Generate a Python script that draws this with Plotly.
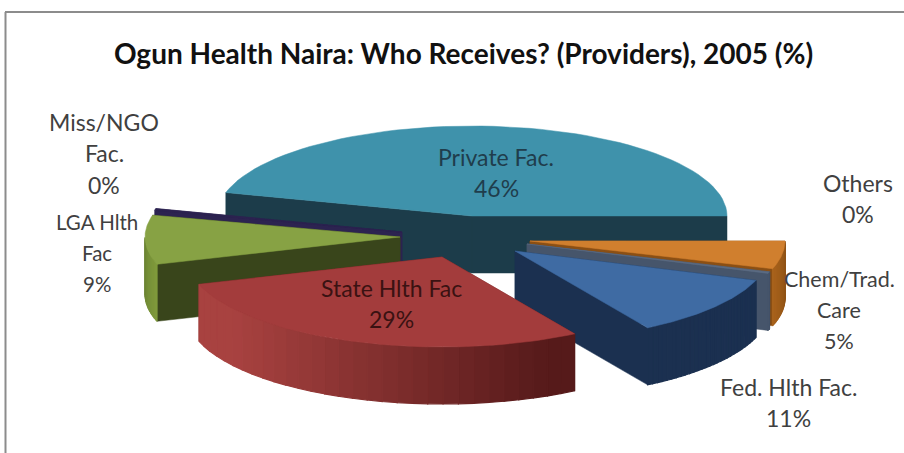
import math
import plotly.graph_objects as go

TITLE = "Ogun Health Naira: Who Receives? (Providers), 2005 (%)"
categories = ["Private Fac.", "Chem/Trad. Care", "Others", "Fed. Hlth Fac.", "State Hlth Fac", "LGA Hlth Fac", "Miss/NGO Fac."]
values = [45.8, 5.0, 0.3, 11.0, 28.8, 8.8, 0.3]
top_colors = ["#3f92ab", "#d07f2e", "#5b6b82", "#3f6ba3", "#a33c3c", "#87a244", "#2c2350"]
cut_colors = ["#1c3c4a", "#8a4f14", "#46556b", "#1b3050", "#6a2020", "#39451b", "#2c2350"]
wall_start = ["#1c3c4a", "#8a4f14", "#46556b", "#1b3050", "#561a1a", "#7f9a3c", "#2c2350"]
wall_end = ["#1c3c4a", "#a8621c", "#46556b", "#1b3050", "#a84240", "#6d8534", "#2c2350"]

# pie geometry, in page pixels
RX, RY, DEPTH = 255, 90, 57
START_DEG = 164.9
apex_by_cat = {
    "Private Fac.": (472, 216), "Chem/Trad. Care": (530, 241), "Others": (527, 244),
    "Fed. Hlth Fac.": (515, 251), "State Hlth Fac": (442, 257),
    "LGA Hlth Fac": (400, 237), "Miss/NGO Fac.": (402, 232),
}
draw_order = ["Private Fac.", "Miss/NGO Fac.", "LGA Hlth Fac", "Chem/Trad. Care", "Others", "Fed. Hlth Fac.", "State Hlth Fac"]

# label layout: lines are derived from the categories and values
label_layout = {
    "Private Fac.": dict(x=496, ys=[157, 188], lines=["Private Fac."], color="#1f3d4c", size=23),
    "Miss/NGO Fac.": dict(x=104, ys=[122, 153, 185], lines=["Miss/NGO", "Fac."], color="#404040", size=23),
    "LGA Hlth Fac": dict(x=97, ys=[222, 253, 284], lines=["LGA Hlth", "Fac"], color="#404040", size=20.5),
    "State Hlth Fac": dict(x=391, ys=[288, 319], lines=["State Hlth Fac"], color="#3a1212", size=23),
    "Others": dict(x=858, ys=[183, 214], lines=["Others"], color="#404040", size=23),
    "Chem/Trad. Care": dict(x=839, ys=[279, 310, 341], lines=["Chem/Trad.", "Care"], color="#404040", size=21.5),
    "Fed. Hlth Fac.": dict(x=788, ys=[387, 418], lines=["Fed. Hlth Fac."], color="#404040", size=23),
}


def mix(c1, c2, f):
    a = [int(c1[i:i + 2], 16) for i in (1, 3, 5)]
    b = [int(c2[i:i + 2], 16) for i in (1, 3, 5)]
    return "#" + "".join(f"{round(p + (q - p) * f):02x}" for p, q in zip(a, b))


def pt(apex, deg):
    r = math.radians(deg)
    return apex[0] + RX * math.cos(r), apex[1] - RY * math.sin(r)


def down(p):
    return p[0], p[1] + DEPTH


def poly(fig, pts, color, width=0.5):
    xs = [p[0] for p in pts] + [pts[0][0]]
    ys = [p[1] for p in pts] + [pts[0][1]]
    fig.add_trace(go.Scatter(x=xs, y=ys, mode="lines", fill="toself", fillcolor=color,
                             line=dict(color=color, width=width), hoverinfo="skip", showlegend=False))


total = sum(values)
spans = {}
a = START_DEG
for cat, v in zip(categories, values):
    b = a - v / total * 360
    spans[cat] = (a, b)
    a = b

fig = go.Figure()
for cat in draw_order:
    i = categories.index(cat)
    a0, a1 = spans[cat]
    apex = apex_by_cat[cat]
    arc = [a0 + (a1 - a0) * k / 60 for k in range(61)]

    # cut faces, the one lower on the page last
    ends = sorted([pt(apex, a0), pt(apex, a1)], key=lambda p: p[1])
    for p in ends:
        poly(fig, [apex, p, down(p), down(apex)], cut_colors[i])

    # outer wall, front half only, as shaded segments
    front = [d for d in arc if math.sin(math.radians(d)) < 0.001]
    for k in range(0, len(front) - 1, 2):
        q0, q1 = pt(apex, front[k]), pt(apex, front[min(k + 2, len(front) - 1)])
        f = (q0[0] - (apex[0] - RX)) / (2 * RX)
        if cat == "State Hlth Fac":
            col = mix(wall_end[i], wall_start[i], min(1, max(0, (f - 0.1) / 0.62)))
        else:
            col = mix(wall_start[i], wall_end[i], k / max(1, len(front) - 2))
        poly(fig, [q0, q1, down(q1), down(q0)], col, width=1.2)

    # top face
    poly(fig, [apex] + [pt(apex, d) for d in arc], top_colors[i])

annotations = [dict(x=463, y=53, text=f"<b>{TITLE}</b>", showarrow=False, xref="x", yref="y",
                    font=dict(family="Lato", size=28, color="#111111"))]
for cat, spec in label_layout.items():
    pct = f"{round(values[categories.index(cat)])}%"
    for txt, y in zip(spec["lines"] + [pct], spec["ys"]):
        annotations.append(dict(x=spec["x"], y=y, text=txt, showarrow=False, xref="x", yref="y",
                                font=dict(family="Lato", size=spec["size"], color=spec["color"])))

fig.update_layout(
    width=904, height=453, margin=dict(l=0, r=0, t=0, b=0),
    paper_bgcolor="white", plot_bgcolor="white", showlegend=False,
    xaxis=dict(range=[0, 904], visible=False, fixedrange=True),
    yaxis=dict(range=[453, 0], visible=False, fixedrange=True),
    annotations=annotations,
    shapes=[dict(type="line", x0=5.5, x1=5.5, y0=12, y1=453, xref="x", yref="y", line=dict(color="#8c8c8c", width=2)),
            dict(type="line", x0=5, x1=904, y0=12, y1=12, xref="x", yref="y", line=dict(color="#8c8c8c", width=2))],
)
fig.write_html("out.html", config=dict(displayModeBar=False),
               post_script="document.body.style.margin='0';document.documentElement.style.overflow='hidden';")
